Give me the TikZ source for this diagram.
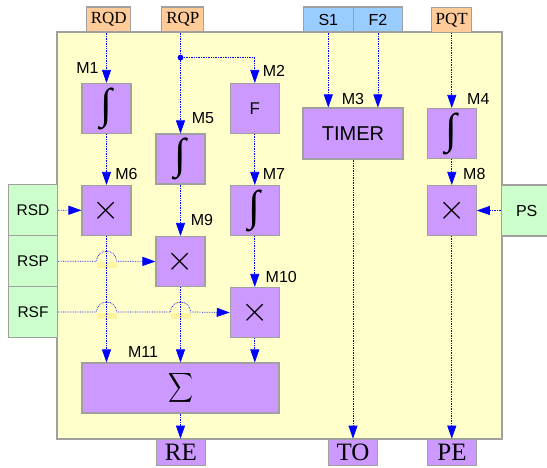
\documentclass[tikz,border=0pt]{standalone}
\usepackage{fontspec}
\setmainfont{Liberation Sans}
\newfontfamily\serifrm{Liberation Serif}
\usepackage{graphicx}
\usetikzlibrary{arrows.meta}
\usetikzlibrary{calc}
\definecolor{bgyel}{HTML}{FFFFCC}
\definecolor{blkpur}{HTML}{CC99FF}
\definecolor{inorg}{HTML}{FFCC99}
\definecolor{inblu}{HTML}{99CCFF}
\definecolor{ingrn}{HTML}{CCFFCC}
\definecolor{brdgray}{HTML}{A0A0A0}
\definecolor{hopyel}{HTML}{FFF5A0}

\newcommand{\intsym}{\resizebox*{!}{42pt}{\serifrm ∫}}
\newcommand{\mulsym}{\scalebox{3.5}{$\times$}}

\begin{document}
\begin{tikzpicture}[x=1pt, y=-1pt, line width=0.7pt,
			blk/.style={draw=brdgray, line width=1.1pt, fill=blkpur, inner sep=0pt,
							minimum width=49pt, minimum height=50pt},
			io/.style={draw=brdgray, line width=1.1pt, inner sep=0pt, minimum height=25pt},
			side/.style={draw=brdgray, line width=1.1pt, fill=ingrn, inner sep=0pt,
							minimum width=49pt, minimum height=51pt, font=\fontsize{15.5}{16}\selectfont},
			ser/.style={font=\serifrm\fontsize{17}{17}\selectfont},
			outs/.style={io, fill=blkpur, minimum width=49pt, minimum height=26pt,
							font=\serifrm\fontsize{25}{25}\selectfont},
			sig/.style={blue, densely dotted, -{Triangle[length=13pt, width=9pt]}},
			lbl/.style={inner sep=0pt, font=\fontsize{16}{16}\selectfont}]

		\useasboundingbox (0,0) rectangle (547,467);
		\draw[brdgray, line width=1.1pt, fill=bgyel] (57,32) rectangle (502,439);

		% inputs and outputs
		\node[io, ser, fill=inorg, minimum width=44pt] (RQD) at (108.7,19.5) {RQD};
		\node[io, ser, fill=inorg, minimum width=42pt] (RQP) at (182.8,19.5) {RQP};
		\node[io, fill=inblu, minimum width=50pt, font=\fontsize{16}{16}\selectfont] (S1) at (328.3,19.5) {S1};
		\node[io, fill=inblu, minimum width=49pt, font=\fontsize{16}{16}\selectfont] (F2) at (377.9,19.5) {F2};
		\node[io, ser, fill=inorg, minimum width=40pt] (PQT) at (451.7,20) {PQT};
		\node[side] (RSD) at (33,210) {RSD};
		\node[side] (RSP) at (33,261.2) {RSP};
		\node[side] (RSF) at (33,312) {RSF};
		\node[side, minimum width=50pt, font=\fontsize{16}{16}\selectfont] (PS) at (526.7,210.5) {PS};
		\node[outs] (RE) at (180.8,452.2) {RE};
		\node[outs] (TO) at (353,452.2) {TO};
		\node[outs] (PE) at (452,452.2) {PE};

		% blocks
		\node[blk] (M1) at (106.5,108.5) {\intsym};
		\node[blk, font=\fontsize{17}{17}\selectfont] (M2) at (254.8,108.5) {F};
		\node[blk, minimum width=100pt, minimum height=51pt,
				font=\fontsize{20}{20}\selectfont] (M3) at (353,133.5) {TIMER};
		\node[blk] (M4) at (451.8,133.5) {\intsym};
		\node[blk] (M5) at (180.5,159) {\intsym};
		\node[blk] (M6) at (106.5,210.5) {\mulsym};
		\node[blk] (M7) at (254.8,210.5) {\intsym};
		\node[blk] (M8) at (451.8,210.5) {\mulsym};
		\node[blk] (M9) at (180.5,261.5) {\mulsym};
		\node[blk] (M10) at (254.8,312.5) {\mulsym};
		\node[blk, minimum width=197pt] (M11) at (180.5,388) {\resizebox*{25pt}{33pt}{$\displaystyle\sum$}};

		% labels
		\node[lbl] (lM1) at (87.5,67.7) {M1};
		\node[lbl] (lM2) at (274,71) {M2};
		\node[lbl] (lM3) at (353,98.5) {M3};
		\node[lbl] (lM4) at (478.3,98.5) {M4};
		\node[lbl] (lM5) at (203,118.5) {M5};
		\node[lbl] (lM6) at (126.5,174) {M6};
		\node[lbl] (lM7) at (274,174) {M7};
		\node[lbl] (lM8) at (474.3,174.3) {M8};
		\node[lbl] (lM9) at (202,220) {M9};
		\node[lbl] (lM10) at (281.3,276.5) {M10};
		\node[lbl] (lM11) at (143,352) {M11};

		% crossings
		\coordinate (xa) at (RSP.east -| M6.south);
		\coordinate (xb) at (RSF.east -| M6.south);
		\coordinate (xc) at (RSF.east -| M9.south);
		\foreach \x in {xa,xb,xc}
			\fill[hopyel] ($(\x)+(-10,0.8)$) rectangle ($(\x)+(10,7)$);

		% signals
		\draw[sig] (M1.north |- RQD.south) -- (M1.north);
		\draw[sig] (M5.north |- RQP.south) -- (M5.north);
		\coordinate (jn) at ($(M5.north |- RQP.south)+(0,25)$);
		\fill[blue] (jn) circle (2.9pt);
		\draw[sig] (jn) -| (M2.north);
		\draw[sig] (S1.south) -- (S1.south |- M3.north);
		\draw[sig] (F2.south) -- (F2.south |- M3.north);
		\draw[sig] (M4.north |- PQT.south) -- (M4.north);
		\draw[sig] (M1) -- (M6);
		\draw[sig] (M2) -- (M7);
		\draw[sig] (M4) -- (M8);
		\draw[sig] (M5) -- (M9);
		\draw[sig] (M7) -- (M10);
		\draw[sig] (RSD) -- (M6);
		\draw[sig] (PS.west |- M8) -- (M8.east);
		\draw[sig] (RSP.east) -- ($(xa)+(-10,0)$) arc[start angle=180, end angle=360, radius=10] -- (M9.west);
		\draw[sig] (RSF.east) -- ($(xb)+(-10,0)$) arc[start angle=180, end angle=360, radius=10]
			-- ($(xc)+(-10,0)$) arc[start angle=180, end angle=360, radius=10] -- (M10.west);
		\draw[sig] (M6.south) -- (M6.south |- M11.north);
		\draw[sig] (M9.south) -- (M9.south |- M11.north);
		\draw[sig] (M10.south) -- (M10.south |- M11.north);
		\draw[sig] (M11.south) -- (M11.south |- RE.north);
		\draw[sig] (M3.south) -- (M3.south |- TO.north);
		\draw[sig] (M8.south) -- (M8.south |- PE.north);
	\end{tikzpicture}
\end{document}
